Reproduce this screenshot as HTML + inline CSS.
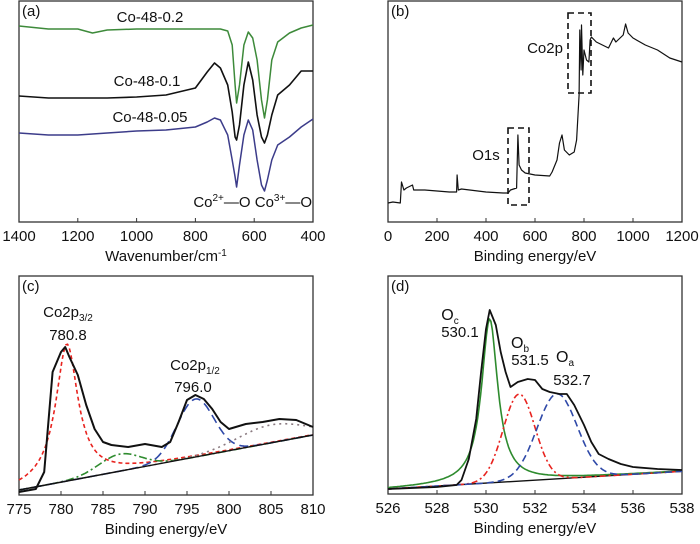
<!DOCTYPE html>
<html><head><meta charset="utf-8"><style>
html,body{margin:0;padding:0;background:#fff}
svg{display:block;font-family:"Liberation Sans",Arial,sans-serif}
</style></head><body>
<svg id="fig" width="700" height="544" viewBox="0 0 700 544"></svg>
<script>
// ---------- Panel (a) FTIR ----------
const aWn = [1400,1300,1200,1150,1100,1000,900,800,760,735,715,690,675,665,660,650,635,620,605,590,575,565,555,540,520,480,440,400];
const aGreen = [196,193,193,189,192,193,193,193,193,193,193,191,177,137,119,137,177,190,184,162,122,104,122,162,180,189,194,197];
const aBlack = [126,124,124,124,124,125,127,134,150,159,154,137,110,85,82,97,137,160,142,107,85,79,87,107,127,137,151,151];
const aPurple = [89,87,87,88,89,91,92,95,100,104,102,87,62,45,35,57,87,102,92,62,37,31,42,62,77,85,95,103];
// ---------- Panel (b) XPS survey ----------
const bE = [0,20,50,55,65,75,100,105,150,250,280,282,287,300,400,470,490,500,525,530,535,545,560,600,660,670,690,700,710,720,740,760,770,780,783,788,790,795,800,810,820,825,830,850,900,920,930,960,970,980,1000,1050,1100,1150,1200];
const bI = [19,20,19,40,32,34,37,32,32,30,30,47,32,33,30,29,29,32,34,87,57,52,49,47,46,50,62,79,87,72,67,70,82,127,192,152,197,147,172,162,160,182,185,180,174,184,180,187,198,189,184,177,172,164,160];
// ---------- Panel (c) Co2p ----------
const cE = [775,777,778,779,780,780.5,781,782,783,784,785,786,788,790,792,793,794,795,796,797,798,799,800,802,804,806,808,810];
const cI = [3,6,23,123,143,148,138,120,90,66,53,50,48,51,48,53,73,95,100,96,86,73,66,71,73,76,75,68];
const cBase = [5,60];
const cCenters = [780.7,787,796,805];
const cHeights = [137,17,58,18];
const cWidths = [1.6,2.5,2.2,4];
// ---------- Panel (d) O1s ----------
const dE = [526,527,528,528.8,529,529.3,529.6,529.8,530,530.15,530.4,530.6,530.8,531,531.3,531.7,532,532.3,532.6,533,533.3,533.6,534,534.3,534.6,535,535.5,536,537,538];
const dI = [5,6,7,9,14,35,75,122,165,184,169,142,122,107,112,115,114,105,102,100,100,89,69,52,40,35,30,27,25,24];
const dBase = [5,22.7];
const dCenters = [530.15,531.35,532.9];
const dHeights = [164,87,85];
const dWidths = [0.4,0.65,0.82];

const NS="http://www.w3.org/2000/svg";
const svg=document.getElementById('fig');
function mk(tag,attrs,parent){const e=document.createElementNS(NS,tag);for(const k in attrs)e.setAttribute(k,attrs[k]);(parent||svg).appendChild(e);return e;}
function lin(d0,d1,r0,r1){return v=>r0+(v-d0)/(d1-d0)*(r1-r0);}
function path(xs,ys,fx,fy){return xs.map((x,i)=>(i?'L':'M')+fx(x).toFixed(1)+','+fy(ys[i]).toFixed(1)).join('');}
function txt(x,y,s,anchor,size,parent){const t=mk('text',{x:x,y:y,'text-anchor':anchor||'middle','font-size':size||15,fill:'#111'},parent);t.textContent=s;return t;}

function frame(L,R,T,B,ticks,fx,title,tl,name){
  const g=mk('g',{});
  
  
  const r=mk('rect',{x:L,y:T,width:R-L,height:B-T,fill:'none',stroke:'#333','stroke-width':1.3},g);
  
  
  ticks.forEach(t=>{const x=fx(t);
    mk('line',{x1:x,x2:x,y1:B,y2:B-4,stroke:'#333','stroke-width':1},g);
    const l=txt(x,B+19,String(t),'middle',15,g);
    
    
  });
  const tt=txt((L+R)/2,B+39,'','middle',15,g);
  tt.innerHTML=title;
  
  
  const p=txt(L+3,T+15,tl,'start',15,g);
  
  
  return g;
}
function line(d,color,w,dash,name,parent){
  const p=mk('path',{d:d,fill:'none',stroke:color,'stroke-width':w,'stroke-linejoin':'round'},parent);
  if(dash)p.setAttribute('stroke-dasharray',dash);
  
  
  return p;
}

// Panel a
{const L=19,R=313,T=1,B=222;const fx=lin(1400,400,L,R),fy=v=>B-v;
 const g=frame(L,R,T,B,[1400,1200,1000,800,600,400],fx,'Wavenumber/cm<tspan dy="-5" font-size="10">-1</tspan>','(a)','panel-a-ftir');
 line(path(aWn,aGreen,fx,fy),'#3d8a3a',1.5,null,'series-co-48-0.2',g);
 line(path(aWn,aBlack,fx,fy),'#111',1.6,null,'series-co-48-0.1',g);
 line(path(aWn,aPurple,fx,fy),'#3c3c8a',1.5,null,'series-co-48-0.05',g);
 let t=txt(150,22,'Co-48-0.2','middle',15,g);
 t=txt(147,86,'Co-48-0.1','middle',15,g);
 t=txt(150,122,'Co-48-0.05','middle',15,g);
 t=txt(312,207,'','end',15,g);t.innerHTML='Co<tspan dy="-6" font-size="10">2+</tspan><tspan dy="6">—O Co</tspan><tspan dy="-6" font-size="10">3+</tspan><tspan dy="6">—O</tspan>';
 
}
// Panel b
{const L=388,R=682,T=1,B=222;const fx=lin(0,1200,L,R),fy=v=>B-v;
 const g=frame(L,R,T,B,[0,200,400,600,800,1000,1200],fx,'Binding energy/eV','(b)','panel-b-survey');
 line(path(bE,bI,fx,fy),'#111',1.2,null,'survey-spectrum',g);
 let r=mk('rect',{x:508,y:128,width:21,height:77,fill:'none',stroke:'#111','stroke-width':1.6,'stroke-dasharray':'6,4'},g);
 
 r=mk('rect',{x:568,y:13,width:23,height:80,fill:'none',stroke:'#111','stroke-width':1.6,'stroke-dasharray':'6,4'},g);
 
 let t=txt(486,160,'O1s','middle',15,g);
 t=txt(545,53,'Co2p','middle',15,g);
}
function comp(E,c,h,w,type,base,e0,e1){
  const ys=[],xs=[];const n=200;
  for(let i=0;i<=n;i++){const e=e0+(e1-e0)*i/n;xs.push(e);
    const b=base[0]+(base[1]-base[0])*(e-e0)/(e1-e0);
    const d=e-c;const v=type==='L'?h/(1+(d/w)*(d/w)):h*Math.exp(-d*d/(2*w*w));
    ys.push(b+v);}
  return [xs,ys];
}
// Panel c
{const L=19,R=313,T=276,B=495;const fx=lin(775,810,L,R),fy=v=>B-v;
 const g=frame(L,R,T,B,[775,780,785,790,795,800,805,810],fx,'Binding energy/eV','(c)','panel-c-co2p');
 const cfg=[['L','#e8231f','4,3','fit-co2p3-2'],['G','#2e8b2e','8,3,2,3','fit-satellite-1'],['G','#2f49a8','9,5','fit-co2p1-2'],['G','#8a7a80','2,4','fit-satellite-2']];
 cCenters.forEach((c,i)=>{const [xs,ys]=comp(null,c,cHeights[i],cWidths[i],cfg[i][0],cBase,775,810);
   line(path(xs,ys,fx,fy),cfg[i][1],1.6,cfg[i][2],cfg[i][3],g);});
 line(path([775,810],cBase,fx,fy),'#111',1.4,null,'baseline',g);
 line(path(cE,cI,fx,fy),'#111',2,null,'co2p-spectrum',g);
 let t=txt(68,317,'','middle',15,g);t.innerHTML='Co2p<tspan dy="4" font-size="10">3/2</tspan>';
 t=txt(68,340,'780.8','middle',15,g);
 t=txt(195,370,'','middle',15,g);t.innerHTML='Co2p<tspan dy="4" font-size="10">1/2</tspan>';
 t=txt(193,392,'796.0','middle',15,g);
}
// Panel d
{const L=388,R=682,T=276,B=494;const fx=lin(526,538,L,R),fy=v=>B-v;
 const g=frame(L,R,T,B,[526,528,530,532,534,536,538],fx,'Binding energy/eV','(d)','panel-d-o1s');
 const cfg=[['L','#2e8b2e',null,'fit-oc'],['G','#e8231f','6,3,2,3','fit-ob'],['G','#2f49a8','7,4','fit-oa']];
 line(path([526,538],dBase,fx,fy),'#111',1.4,null,'baseline',g);
 dCenters.forEach((c,i)=>{const [xs,ys]=comp(null,c,dHeights[i],dWidths[i],cfg[i][0],dBase,526,538);
   line(path(xs,ys,fx,fy),cfg[i][1],1.6,cfg[i][2],cfg[i][3],g);});
 line(path(dE,dI,fx,fy),'#111',1.8,null,'o1s-spectrum',g);
 let t=txt(450,320,'','middle',16,g);t.innerHTML='O<tspan dy="4" font-size="10">c</tspan>';
 t=txt(460,337,'530.1','middle',15,g);
 t=txt(520,348,'','middle',16,g);t.innerHTML='O<tspan dy="4" font-size="10">b</tspan>';
 t=txt(530,365,'531.5','middle',15,g);
 t=txt(565,362,'','middle',16,g);t.innerHTML='O<tspan dy="4" font-size="10">a</tspan>';
 t=txt(572,385,'532.7','middle',15,g);
}
</script>
</body></html>
